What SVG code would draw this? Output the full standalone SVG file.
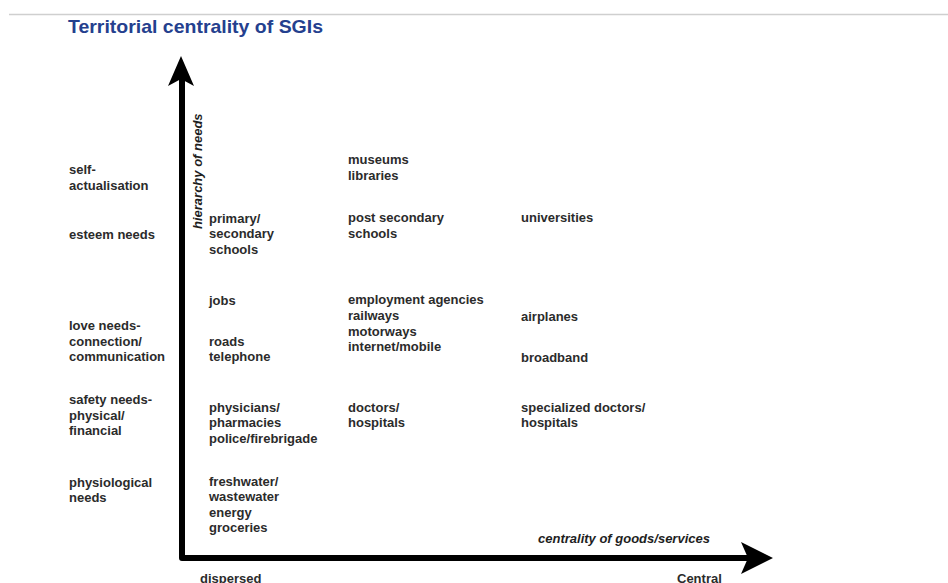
<svg xmlns="http://www.w3.org/2000/svg" width="948" height="583" viewBox="0 0 948 583">
  <style>
    .t { font-family: "Liberation Sans", Arial, sans-serif; font-size: 13px; font-weight: bold; fill: #2b2b2b; }
    .ax { font-family: "Liberation Sans", Arial, sans-serif; font-size: 13px; font-weight: bold; font-style: italic; fill: #1e1e1e; }
    .title { font-family: "Liberation Sans", Arial, sans-serif; font-size: 19px; font-weight: bold; fill: #24408e; }
    .shaft { stroke: #000; stroke-width: 6; fill: none; stroke-linejoin: round; }
  </style>

  <!-- header rule -->
  <line x1="9" y1="14.5" x2="948" y2="14.5" stroke="#cfcfcf" stroke-width="1.5"/>

  <text class="title" x="68" y="33" textLength="255" lengthAdjust="spacingAndGlyphs">Territorial centrality of SGIs</text>

  <!-- axes -->
  <g id="axes">
    <path class="shaft" d="M182 78 L182 558 L752 558"/>
    <path d="M181 56 L194 86 L181 79 L168 86 Z" fill="#000"/>
    <path d="M773 558 L741 542 L748 558 L741 574 Z" fill="#000"/>
    <text class="ax" transform="translate(202 229) rotate(-90)">hierarchy of needs</text>
    <text class="ax" x="538" y="543">centrality of goods/services</text>
    <text class="t" x="200" y="583">dispersed</text>
    <text class="t" x="677" y="583">Central</text>
  </g>

  <!-- hierarchy of needs -->
  <g id="needs">
    <text class="t" x="69" y="174">self-</text>
    <text class="t" x="69" y="190">actualisation</text>
    <text class="t" x="69" y="239">esteem needs</text>
    <text class="t" x="69" y="330">love needs-</text>
    <text class="t" x="69" y="346">connection/</text>
    <text class="t" x="69" y="361">communication</text>
    <text class="t" x="69" y="404">safety needs-</text>
    <text class="t" x="69" y="420">physical/</text>
    <text class="t" x="69" y="435">financial</text>
    <text class="t" x="69" y="487">physiological</text>
    <text class="t" x="69" y="502">needs</text>
  </g>

  <!-- dispersed services -->
  <g id="dispersed">
    <text class="t" x="209" y="223">primary/</text>
    <text class="t" x="209" y="238">secondary</text>
    <text class="t" x="209" y="254">schools</text>
    <text class="t" x="209" y="305">jobs</text>
    <text class="t" x="209" y="346">roads</text>
    <text class="t" x="209" y="361">telephone</text>
    <text class="t" x="209" y="412">physicians/</text>
    <text class="t" x="209" y="427">pharmacies</text>
    <text class="t" x="209" y="443">police/firebrigade</text>
    <text class="t" x="209" y="486">freshwater/</text>
    <text class="t" x="209" y="501">wastewater</text>
    <text class="t" x="209" y="517">energy</text>
    <text class="t" x="209" y="532">groceries</text>
  </g>

  <!-- intermediate services -->
  <g id="intermediate">
    <text class="t" x="348" y="164">museums</text>
    <text class="t" x="348" y="180">libraries</text>
    <text class="t" x="348" y="222">post secondary</text>
    <text class="t" x="348" y="238">schools</text>
    <text class="t" x="348" y="304">employment agencies</text>
    <text class="t" x="348" y="320">railways</text>
    <text class="t" x="348" y="336">motorways</text>
    <text class="t" x="348" y="351">internet/mobile</text>
    <text class="t" x="348" y="412">doctors/</text>
    <text class="t" x="348" y="427">hospitals</text>
  </g>

  <!-- central services -->
  <g id="central">
    <text class="t" x="521" y="222">universities</text>
    <text class="t" x="521" y="321">airplanes</text>
    <text class="t" x="521" y="362">broadband</text>
    <text class="t" x="521" y="412">specialized doctors/</text>
    <text class="t" x="521" y="427">hospitals</text>
  </g>
</svg>
